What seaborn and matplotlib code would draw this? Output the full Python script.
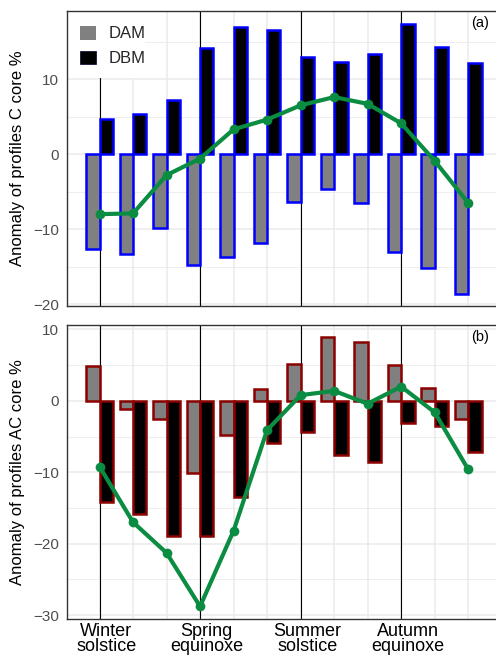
import numpy as np
import pandas as pd
import matplotlib
matplotlib.use("Agg")
import matplotlib.pyplot as plt
import seaborn as sns
from matplotlib.patches import Patch, Rectangle

# ---- data ----
positions = list(range(12))
season_labels = ["Winter\nsolstice", "Spring\nequinoxe", "Summer\nsolstice", "Autumn\nequinoxe"]
season_pos = [0, 3, 6, 9]

c_dam = [-12.6, -13.3, -9.9, -14.8, -13.7, -11.9, -6.4, -4.7, -6.5, -13.1, -15.2, -18.6]
c_dbm = [4.7, 5.3, 7.2, 14.2, 17.0, 16.5, 12.9, 12.3, 13.3, 17.3, 14.3, 12.2]
c_line = [-8.0, -7.9, -2.8, -0.6, 3.3, 4.6, 6.5, 7.6, 6.7, 4.1, -0.9, -6.5]

ac_dam = [4.9, -1.2, -2.5, -10.1, -4.8, 1.6, 5.1, 8.9, 8.2, 5.0, 1.8, -2.5]
ac_dbm = [-14.2, -15.8, -18.9, -18.9, -13.5, -5.9, -4.4, -7.6, -8.6, -3.1, -3.5, -7.2]
ac_line = [-9.2, -17.0, -21.3, -28.8, -18.2, -4.1, 0.8, 1.4, -0.4, 2.0, -1.6, -9.6]

sns.set_theme(style="white")
plt.rcParams["font.family"] = ["Liberation Sans", "DejaVu Sans"]

W, H = 496, 655
fig = plt.figure(figsize=(W / 100, H / 100), dpi=100)

green = "#0A8C42"
palette = {"DAM": "#808080", "DBM": "#000000"}

def panel(rect, dam, dbm, line, edge, ylim, yticks, ylabel, tag, legend):
    ax = fig.add_axes(rect)
    df = pd.DataFrame({
        "pos": positions * 2,
        "value": dam + dbm,
        "type": ["DAM"] * 12 + ["DBM"] * 12,
    })
    sns.barplot(data=df, x="pos", y="value", hue="type", palette=palette,
                hue_order=["DAM", "DBM"], width=0.8, errorbar=None,
                edgecolor=edge, linewidth=1.8, saturation=1, legend=False,
                ax=ax, zorder=3)
    for p in season_pos:
        ax.axvline(p, color="black", lw=0.8, zorder=2)
    sns.lineplot(x=positions, y=line, color=green, lw=3.0, marker="o",
                 markersize=7, markeredgewidth=0, ax=ax, zorder=5)
    # grid / ticks
    ax.set_xticks(positions, minor=True)
    ax.set_xticks([p + 0.2 for p in season_pos])
    ax.set_yticks(yticks)
    ax.set_yticks([t + 5 for t in yticks] + [yticks[0] - 5], minor=True)
    ax.set_xlim(-0.97, 11.83)
    ax.set_ylim(*ylim)
    ax.grid(True, which="minor", axis="x", color="#EBEBEB", lw=1.1, zorder=0)
    ax.grid(True, which="major", axis="y", color="#EBEBEB", lw=1.1, zorder=0)
    ax.grid(True, which="minor", axis="y", color="#EBEBEB", lw=0.6, zorder=0)
    ax.set_axisbelow(True)
    ax.set_yticklabels([f"{t}".replace("-", "\u2212") for t in yticks])
    ax.tick_params(axis="y", which="major", length=3.5, width=0.8, color="#333333",
                   labelsize=11, labelcolor="#4D4D4D", pad=2)
    ax.tick_params(axis="both", which="minor", length=0)
    ax.tick_params(axis="x", which="major", length=0)
    ax.set_xlabel("")
    ax.set_ylabel(ylabel, fontsize=12, color="black", labelpad=6)
    for s in ["top", "left", "bottom"]:
        ax.spines[s].set_color("#333333")
        ax.spines[s].set_linewidth(1.0)
        ax.spines[s].set_zorder(7)
    ax.spines["right"].set_visible(False)
    ax.text(0.984, 0.958, tag, transform=ax.transAxes, ha="right", va="center",
            fontsize=10.5, color="black")
    if legend:
        # white legend background box (78 px wide, 67 px tall)
        bw = (145 - 67) / (W - 67)
        bh = (78 - 11) / (305.7 - 11)
        ax.add_patch(Rectangle((0, 1 - bh), bw, bh, transform=ax.transAxes,
                               facecolor="white", edgecolor="none", zorder=4))
        handles = [Patch(facecolor=palette["DAM"], edgecolor="none"),
                   Patch(facecolor=palette["DBM"], edgecolor="#000033", lw=0.5)]
        leg = ax.legend(handles, ["DAM", "DBM"], loc="upper left",
                        bbox_to_anchor=(0.0, 0.995), borderaxespad=0.0, frameon=False,
                        fontsize=12, handlelength=0.95,
                        handleheight=0.9, handletextpad=0.75, labelspacing=0.55,
                        borderpad=0.8)
        leg.set_zorder(6)
    return ax

ax1 = panel([67 / W, 1 - 305.7 / H, 1 - 67 / W, (305.7 - 11) / H],
            c_dam, c_dbm, c_line, "#0000FF", (-20.2, 19.07), [-20, -10, 0, 10],
            "Anomaly of profiles C core %", "(a)", True)
ax1.set_xticklabels([])

ax2 = panel([67 / W, 1 - 619 / H, 1 - 67 / W, (619 - 325) / H],
            ac_dam, ac_dbm, ac_line, "#8B0000", (-30.56, 10.63), [-30, -20, -10, 0, 10],
            "Anomaly of profiles AC core %", "(b)", False)
ax2.set_xticklabels(season_labels, fontsize=13, color="black", linespacing=0.8)
ax2.tick_params(axis="x", which="major", pad=3)

fig.savefig("out.png", dpi=100)
